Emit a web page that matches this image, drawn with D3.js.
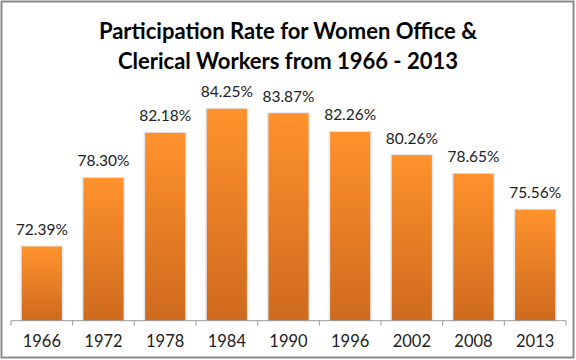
<!DOCTYPE html>
<html>
<head>
<meta charset="utf-8">
<script src="https://cdn.jsdelivr.net/npm/d3@7"></script>
<style>
  body { margin: 0; background: #fff; }
  text { font-family: Lato, "Open Sans", sans-serif; fill: #222; }
</style>
</head>
<body>
<div id="chart"></div>
<script>
// chart data
const years = ["1966", "1972", "1978", "1984", "1990", "1996", "2002", "2008", "2013"];
const rates = [72.39, 78.30, 82.18, 84.25, 83.87, 82.26, 80.26, 78.65, 75.56];
const titleLines = ["Participation Rate for Women Office &", "Clerical Workers from 1966 - 2013"];

const width = 576, height = 360;
const margin = {top: 88.5, right: 10, bottom: 39.3, left: 11};

const svg = d3.select("#chart").append("svg")
    .attr("width", width)
    .attr("height", height);

// gradient for the bars
const grad = svg.append("defs").append("linearGradient")
    .attr("id", "barGrad")
    .attr("x1", 0).attr("y1", 0).attr("x2", 0).attr("y2", 1);
grad.append("stop").attr("offset", "0%").attr("stop-color", "#FF922C");
grad.append("stop").attr("offset", "100%").attr("stop-color", "#CE6A1E");

// outer border
svg.append("rect")
    .attr("x", 1.5).attr("y", 1.5)
    .attr("width", width - 4).attr("height", height - 4)
    .attr("fill", "none")
    .attr("stroke", "#8a8a8a")
    .attr("stroke-width", 2);

// title
svg.append("g").selectAll("text")
    .data(titleLines)
    .join("text")
    .attr("x", 288)
    .attr("y", (d, i) => 38.5 + i * 30.5)
    .attr("text-anchor", "middle")
    .style("font-size", "22px")
    .style("font-weight", "bold")
    .style("fill", "#000")
    .text(d => d);

const x = d3.scaleBand()
    .domain(years)
    .range([margin.left, width - margin.right])
    .paddingInner(0.35)
    .paddingOuter(0.175);

const y = d3.scaleLinear()
    .domain([66, 86])
    .range([height - margin.bottom, margin.top]);

const data = years.map((yr, i) => ({year: yr, value: rates[i]}));

// soft shadow behind bars
svg.append("g").selectAll("rect")
    .data(data)
    .join("rect")
    .attr("x", d => x(d.year) - 1.5)
    .attr("y", d => y(d.value) - 1)
    .attr("width", x.bandwidth() + 3)
    .attr("height", d => y(66) - y(d.value) + 1)
    .attr("fill", "#e3e6ec");

svg.append("g").selectAll("rect")
    .data(data)
    .join("rect")
    .attr("x", d => x(d.year))
    .attr("y", d => y(d.value))
    .attr("width", x.bandwidth())
    .attr("height", d => y(66) - y(d.value))
    .attr("fill", "url(#barGrad)");

// value labels
svg.append("g").selectAll("text")
    .data(data)
    .join("text")
    .attr("x", d => x(d.year) + x.bandwidth() / 2)
    .attr("y", d => y(d.value) - 11.5)
    .attr("text-anchor", "middle")
    .style("font-size", "15.5px")
    .text(d => d.value.toFixed(2) + "%");

// x axis with ticks on band edges
const axisY = height - margin.bottom;
const axisG = svg.append("g");
axisG.append("line")
    .attr("x1", margin.left).attr("x2", width - margin.right)
    .attr("y1", axisY).attr("y2", axisY)
    .attr("stroke", "#9a9a9a");
const edges = years.map(yr => x(yr) - x.step() * x.paddingInner() / 2);
edges.push(width - margin.right);
axisG.selectAll("line.tick")
    .data(edges)
    .join("line")
    .attr("class", "tick")
    .attr("x1", d => d).attr("x2", d => d)
    .attr("y1", axisY).attr("y2", axisY + 5)
    .attr("stroke", "#9a9a9a");
axisG.selectAll("text")
    .data(years)
    .join("text")
    .attr("x", d => x(d) + x.bandwidth() / 2)
    .attr("y", axisY + 26)
    .attr("text-anchor", "middle")
    .style("font-size", "16.5px")
    .text(d => d);
</script>
</body>
</html>
